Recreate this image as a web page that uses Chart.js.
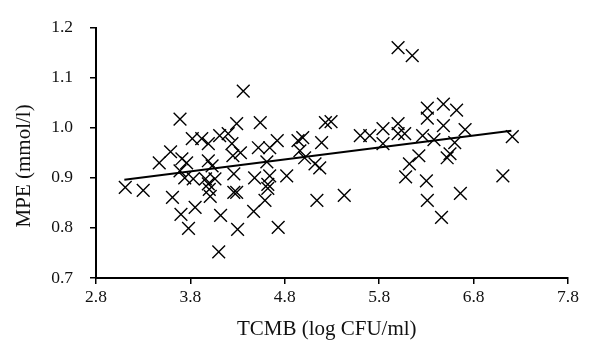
<!DOCTYPE html>
<html>
<head>
<meta charset="utf-8">
<script src="https://cdn.jsdelivr.net/npm/chart.js@4/dist/chart.umd.min.js"></script>
<style>
  html, body { margin: 0; padding: 0; background: #fff; }
  #wrap { width: 592px; height: 344px; }
</style>
</head>
<body>
<div id="wrap"><canvas id="scatterChart" width="592" height="344"></canvas></div>
<script>
// data --------------------------------------------------------------------
const tcmb = [
  3.11, 3.30, 3.47, 3.59, 3.69, 3.61, 3.70, 3.78, 3.85, 3.71, 3.76, 3.74, 3.83,
  3.82, 3.92, 3.99, 3.96, 3.99, 4.03, 4.06, 4.11, 4.00, 4.01, 4.12, 4.10, 4.20,
  4.24, 4.33, 4.25, 4.26, 4.29, 4.36, 4.29, 4.26, 4.30, 4.47, 4.59, 4.62, 4.64,
  4.48, 4.52, 4.64, 4.72, 4.61, 4.62, 4.54, 4.73, 4.82, 4.94, 4.99, 4.96, 5.01,
  5.12, 5.17, 5.14, 5.23, 5.29, 5.19, 5.43, 5.60, 5.70, 5.84, 5.84, 6.00, 6.00,
  6.07, 6.00, 6.15, 6.31, 6.48, 6.62, 6.31, 6.48, 6.71, 6.26, 6.38, 6.60, 6.22,
  6.12, 6.52, 6.55, 6.08, 6.30, 6.31, 6.46, 6.66, 7.11, 7.21, 3.69, 3.99
];
const mpe = [
  0.881, 0.875, 0.930, 0.952, 1.017, 0.861, 0.827, 0.799, 0.841, 0.938, 0.930, 0.900, 0.898,
  0.978, 0.978, 0.968, 0.898, 0.934, 0.924, 0.898, 0.984, 0.877, 0.863, 0.825, 0.752, 0.988,
  0.968, 0.950, 0.944, 0.908, 1.008, 1.073, 0.871, 0.871, 0.797, 0.833, 0.855, 0.879, 0.904,
  0.900, 0.960, 0.960, 0.974, 0.932, 0.887, 1.010, 0.801, 0.904, 0.974, 0.980, 0.954, 0.940,
  0.928, 0.920, 0.855, 1.010, 1.012, 0.970, 0.865, 0.984, 0.984, 0.998, 0.968, 1.008, 0.988,
  0.988, 1.160, 1.144, 1.039, 1.047, 1.035, 1.019, 1.004, 0.996, 0.984, 0.976, 0.970, 0.944,
  0.928, 0.940, 0.948, 0.902, 0.894, 0.855, 0.821, 0.869, 0.904, 0.982, 0.914, 0.888
];
// trend line end points
const trendX = [3.1, 7.2];
const trendY = [0.896, 0.994];

const xTicks = [2.8, 3.8, 4.8, 5.8, 6.8, 7.8];
const yTicks = [0.7, 0.8, 0.9, 1.0, 1.1, 1.2];

const points = tcmb.map(function (x, i) { return { x: x, y: mpe[i] }; });
const trend = trendX.map(function (x, i) { return { x: x, y: trendY[i] }; });

const serif = '"Liberation Serif", "Times New Roman", serif';
const nb = "\u00a0"; // trailing spaces nudge the axis titles like in the original

const ctx = document.getElementById("scatterChart").getContext("2d");

new Chart(ctx, {
  type: "scatter",
  data: {
    datasets: [
      {
        data: points,
        pointStyle: "crossRot",
        pointRadius: 9,
        pointHoverRadius: 9,
        pointBorderWidth: 1.4,
        borderColor: "#000",
        backgroundColor: "#000",
      },
      {
        type: "line",
        data: trend,
        borderColor: "#000",
        borderWidth: 2,
        pointRadius: 0,
        fill: false,
      },
    ],
  },
  options: {
    responsive: false,
    animation: false,
    layout: { padding: { left: 0, right: 24, top: 26, bottom: 0 } },
    plugins: {
      legend: { display: false },
      tooltip: { enabled: false },
    },
    scales: {
      x: {
        type: "linear",
        min: 2.8,
        max: 7.8,
        afterBuildTicks: function (axis) {
          axis.ticks = xTicks.map(function (v) { return { value: v }; });
        },
        afterFit: function (axis) { axis.height = 66; },
        grid: { drawOnChartArea: false, drawTicks: true, tickLength: 6, color: "#000", lineWidth: 1.5 },
        border: { color: "#000", width: 2 },
        ticks: {
          padding: 3,
          color: "#111",
          font: { family: serif, size: 17.5 },
          callback: function (v) { return v.toFixed(1); },
        },
        title: {
          display: true,
          text: "TCMB (log CFU/ml)" + nb.repeat(2),
          color: "#111",
          font: { family: serif, size: 21 },
          padding: { top: 0, bottom: 2 },
        },
      },
      y: {
        type: "linear",
        min: 0.7,
        max: 1.2,
        afterBuildTicks: function (axis) {
          axis.ticks = yTicks.map(function (v) { return { value: v }; });
        },
        afterFit: function (axis) { axis.width = 96; },
        grid: { drawOnChartArea: false, drawTicks: true, tickLength: 6, color: "#000", lineWidth: 1.5 },
        border: { color: "#000", width: 2 },
        ticks: {
          padding: 17,
          color: "#111",
          font: { family: serif, size: 17.5 },
          callback: function (v) { return v.toFixed(1); },
        },
        title: {
          display: true,
          text: "MPE (mmol/l)" + nb.repeat(5),
          color: "#111",
          font: { family: serif, size: 21 },
          padding: { top: 12, bottom: 0 },
        },
      },
    },
  },
});
</script>
</body>
</html>
